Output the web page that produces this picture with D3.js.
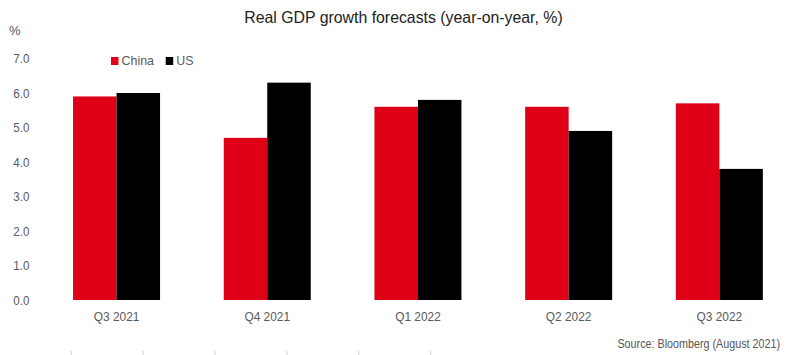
<!DOCTYPE html>
<html><head><meta charset="utf-8">
<script src="https://cdn.jsdelivr.net/npm/d3@7"></script>
<style>
html,body{margin:0;padding:0;background:#fff;}
svg{display:block;}
text{font-family:"Liberation Sans",Arial,sans-serif;}
</style></head>
<body><svg id="chart" width="791" height="355"></svg>
<script>
const categories = ["Q3 2021","Q4 2021","Q1 2022","Q2 2022","Q3 2022"];
const seriesNames = ["China","US"];
const china = [5.9, 4.7, 5.6, 5.6, 5.7];
const us = [6.0, 6.3, 5.8, 4.9, 3.8];
const yTicks = [0,1,2,3,4,5,6,7];
const colors = ["#dd0016","#000000"];
const title = "Real GDP growth forecasts (year-on-year, %)";
const source = "Source: Bloomberg (August 2021)";
const stubTicks = [0,1,2,3,4,5];

const svg = d3.select("#chart");
function condense(sel, k){
  sel.each(function(){
    const L = this.getComputedTextLength();
    d3.select(this).attr("textLength", L*k).attr("lengthAdjust","spacingAndGlyphs");
  });
}
const x = d3.scaleBand().domain(categories).range([41.2, 794.7]).paddingInner(0).paddingOuter(0);
const groupW = 87;
const xs = d3.scaleBand().domain(seriesNames).range([0, groupW]);
const y = d3.scaleLinear().domain([0,7]).range([300, 58.5]);

// title
svg.append("text").attr("x", 403.5).attr("y", 23).attr("text-anchor","middle")
  .attr("font-size", 16.5).attr("fill","#222").text(title).call(condense, 0.96);
// % label
svg.append("text").attr("x", 9).attr("y", 35).attr("font-size", 13).attr("fill","#555").text("%");

// y axis labels
const yAxis = d3.axisLeft(y).tickValues(yTicks).tickFormat(d3.format(".1f")).tickSize(0).tickPadding(0);
const gy = svg.append("g").attr("transform","translate(29.5,0)").call(yAxis);
gy.select(".domain").remove();
gy.selectAll("text").attr("font-size", 13.5).attr("fill","#595959").attr("font-family",null).call(condense, 0.86);

// bars
const data = categories.map((c,i)=>({cat:c, vals:[china[i], us[i]]}));
const groups = svg.append("g").selectAll("g").data(data).join("g")
  .attr("transform", d => `translate(${x(d.cat) + x.bandwidth()/2 - groupW/2},0)`);
groups.selectAll("rect").data(d => d.vals.map((v,j)=>({v, s:seriesNames[j], j})))
  .join("rect")
  .attr("x", d => xs(d.s)).attr("width", xs.bandwidth())
  .attr("y", d => y(d.v)).attr("height", d => y(0) - y(d.v))
  .attr("fill", d => colors[d.j]);

// x axis labels
const xAxis = d3.axisBottom(x).tickSize(0).tickPadding(0);
const gx = svg.append("g").attr("transform","translate(0,311)").call(xAxis);
gx.select(".domain").remove();
gx.selectAll("text").attr("font-size", 13.5).attr("fill","#595959").attr("font-family",null).attr("dy","0.71em").call(condense, 0.88);

// legend
const lx = d3.scalePoint().domain(seriesNames).range([111, 165.7]);
const leg = svg.append("g").selectAll("g").data(seriesNames).join("g")
  .attr("transform", d => `translate(${lx(d)},57)`);
leg.append("rect").attr("width",7.5).attr("height",8).attr("fill",(d,i)=>colors[i]);
leg.append("text").attr("x",10.5).attr("y",8.3).attr("font-size",13.5).attr("fill","#595959").text(d=>d).call(condense, 0.92);

// source
svg.append("text").attr("x", 780).attr("y", 348).attr("text-anchor","end")
  .attr("font-size", 12.5).attr("fill","#555").text(source).call(condense, 0.86);

// small stub ticks at bottom
const sx = d3.scaleLinear().domain([0,5]).range([70.7, 430.3]);
const stubAxis = d3.axisBottom(sx).tickValues(stubTicks).tickSize(4).tickFormat("");
const gs = svg.append("g").attr("transform","translate(0,351)").call(stubAxis);
gs.select(".domain").remove();
gs.selectAll("line").attr("stroke","#d0d0d0");
</script></body></html>
